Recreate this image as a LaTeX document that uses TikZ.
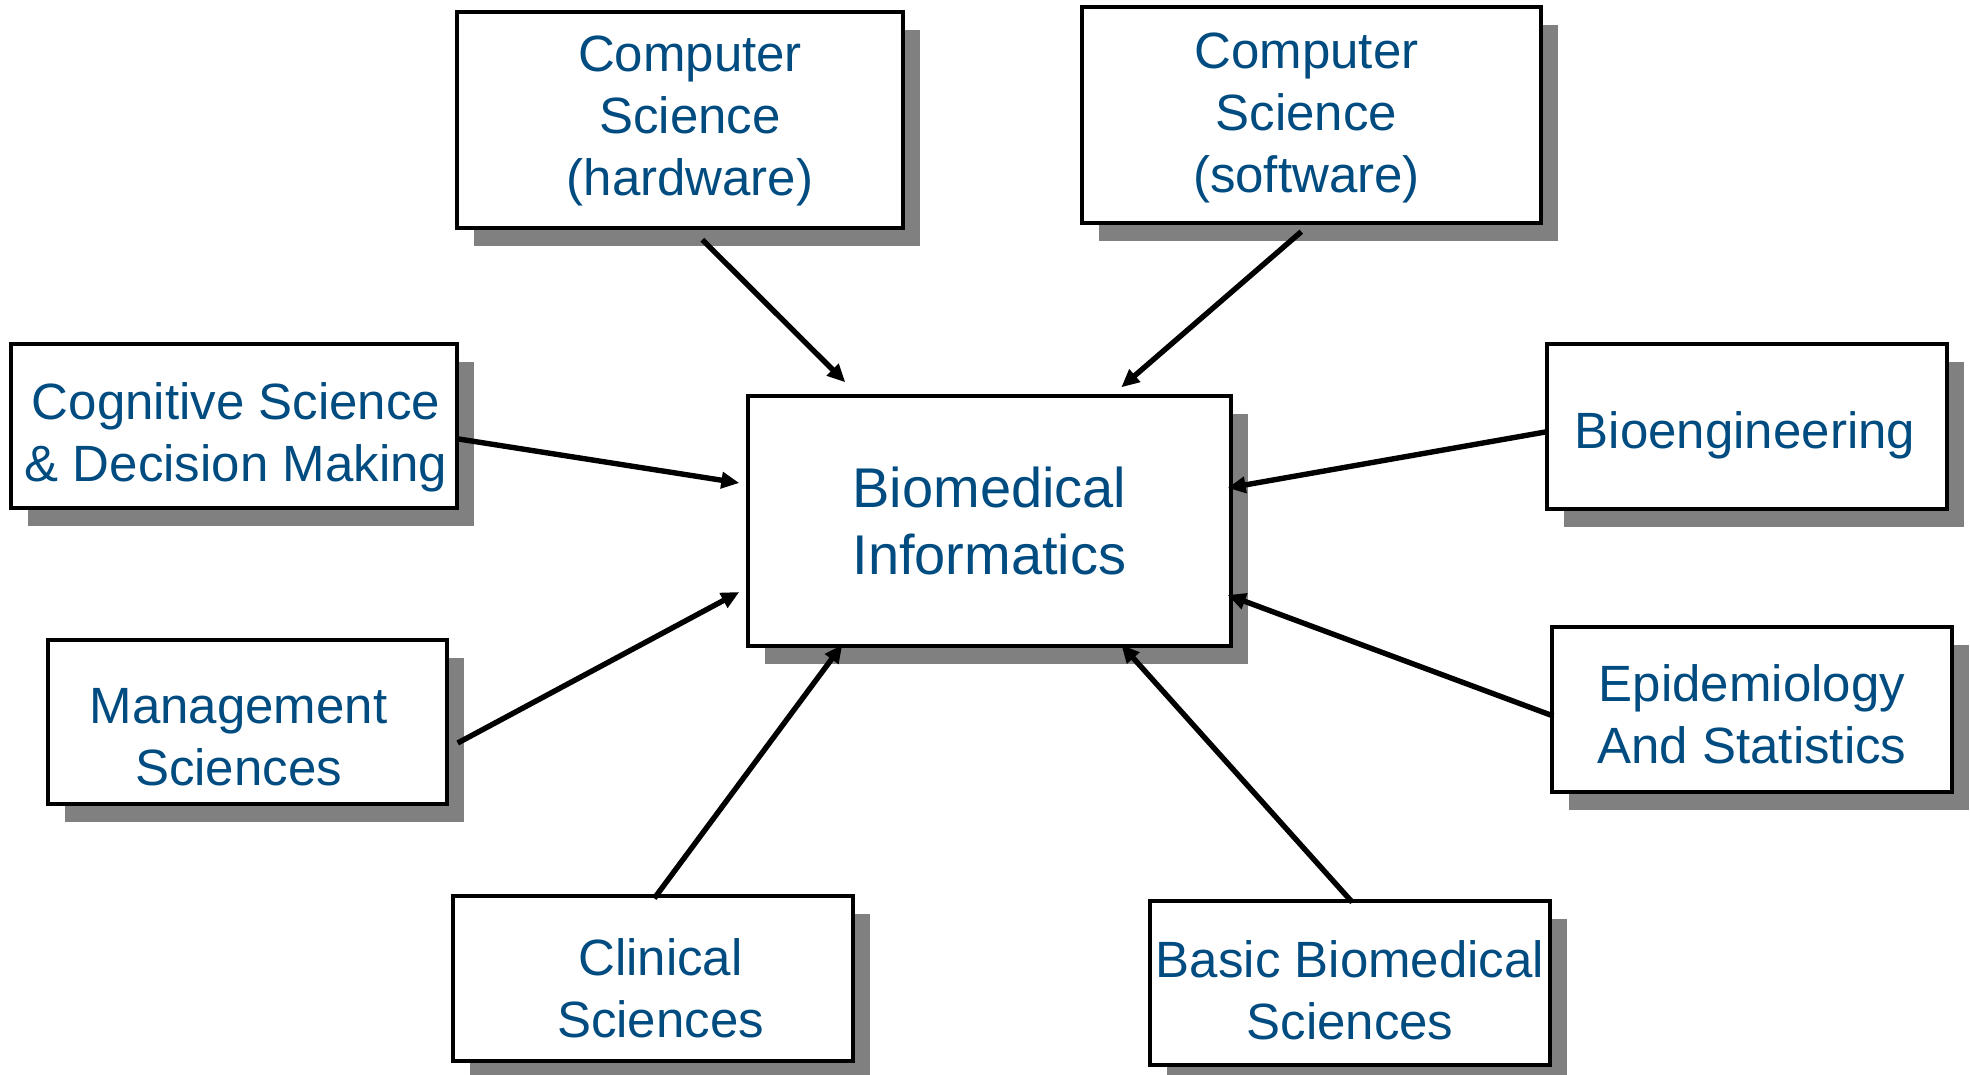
\documentclass[tikz,border=0pt]{standalone}
\usepackage{fontspec}
\setmainfont{Liberation Sans}
\usetikzlibrary{shadows,calc,arrows.meta}
\definecolor{txtblue}{RGB}{0,76,128}
\definecolor{shadowgray}{RGB}{128,128,128}
\begin{document}
\begin{tikzpicture}[x=0.5pt,y=-0.5pt,
  box/.style={draw=black, line width=1.7pt, fill=white, inner sep=0pt,
    drop shadow={shadow xshift=8.5pt, shadow yshift=-9pt, fill=shadowgray, opacity=1}},
  lbl/.style={inner sep=0pt, align=center, text=txtblue, font=\fontsize{25.5}{31}\selectfont},
  arr/.style={line width=2.7pt, -{Triangle[length=9pt,width=8pt]}}]
\useasboundingbox (0,0) rectangle (1970,1075);

\node[box, minimum width=223pt, minimum height=108pt] (hw) at (680,120) {};
\node[box, minimum width=229.5pt, minimum height=108pt] (sw) at (1311.5,115) {};
\node[box, minimum width=223pt, minimum height=82pt] (cog) at (234,426) {};
\node[box, minimum width=241.5pt, minimum height=125pt] (bmi) at (989.5,521) {};
\node[box, minimum width=200pt, minimum height=82.5pt] (bio) at (1747,426.5) {};
\node[box, minimum width=199.5pt, minimum height=82pt] (mgmt) at (247.5,722) {};
\node[box, minimum width=200pt, minimum height=82.5pt] (epi) at (1752,709.5) {};
\node[box, minimum width=200pt, minimum height=82.5pt] (clin) at (653,978.5) {};
\node[box, minimum width=200pt, minimum height=82pt] (basic) at (1350,983) {};

\node[lbl] (hwT) at ($(hw.center)+(10,1)$) {Computer\\Science\\(hardware)};
\node[lbl] (swT) at ($(sw.center)+(-5,2.5)$) {Computer\\Science\\(software)};
\node[lbl] (cogT) at ($(cog.center)+(2,11)$) {Cognitive Science\\\& Decision Making};
\node[lbl, font=\fontsize{28}{33.5}\selectfont] (bmiT) at (bmi.center) {Biomedical\\Informatics};
\node[lbl] (bioT) at ($(bio.center)+(-2,9)$) {Bioengineering};
\node[lbl] (mgmtT) at ($(mgmt.center)+(-9,15)$) {Management\\Sciences};
\node[lbl] (epiT) at ($(epi.center)+(0,5)$) {Epidemiology\\And Statistics};
\node[lbl] (clinT) at ($(clin.center)+(7.5,10)$) {Clinical\\Sciences};
\node[lbl] (basicT) at ($(basic.center)+(0,7.5)$) {Basic Biomedical\\Sciences};

\draw[arr] ($(hw.south west)+(247,10)$) -- ($(bmi.north west)+(99,-12)$);
\draw[arr] ($(sw.south west)+(221,7)$) -- ($(bmi.north west)+(375,-7)$);
\draw[arr] ($(cog.east)+(0,13)$) -- ($(bmi.west)+(-7,-38)$);
\draw[arr] ($(mgmt.east)+(9,21)$) -- ($(bmi.west)+(-7,71)$);
\draw[arr] ($(clin.north west)+(203,4)$) -- ($(bmi.south west)+(96,-3)$);
\draw[arr] ($(basic.north west)+(204,3)$) -- ($(bmi.south west)+(375,-3)$);
\draw[arr] ($(bio.west)+(0,5.5)$) -- ($(bmi.east)+(-5,-33)$);
\draw[arr] ($(epi.west)+(3,6.5)$) -- ($(bmi.east)+(-5,74)$);
\end{tikzpicture}
\end{document}
